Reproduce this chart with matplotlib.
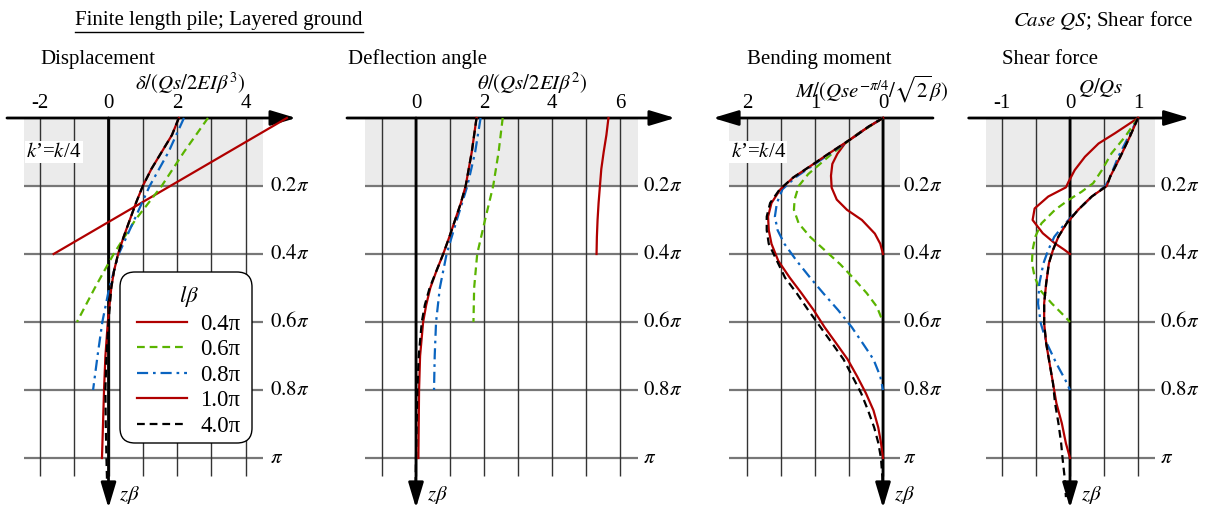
import matplotlib.pyplot as plt
from matplotlib.lines import Line2D
from matplotlib.patches import FancyBboxPatch
from matplotlib.transforms import IdentityTransform

plt.rcParams['font.family'] = ['Liberation Serif', 'DejaVu Serif']
plt.rcParams['mathtext.fontset'] = 'stix'
plt.rcParams['font.size'] = 15

# depth zβ in units of π, pile lengths lβ
cases = ['0.4π', '0.6π', '0.8π', '1.0π', '4.0π']
z_ticks = [0.2, 0.4, 0.6, 0.8, 1.0]
z_labels = [r'$0.2\pi$', r'$0.4\pi$', r'$0.6\pi$', r'$0.8\pi$', r'$\pi$']

# --- displacement  δ/(Qs/2EIβ³)
d04_z = [0, 0.1, 0.2, 0.3, 0.4]
d04_v = [5.2, 3.5, 1.8, 0.1, -1.6]
d06_z = [0, 0.1, 0.2, 0.3, 0.4, 0.5, 0.6]
d06_v = [2.9, 2.2, 1.55, 0.78, 0.15, -0.4, -0.92]
d08_z = [0, 0.1, 0.2, 0.3, 0.4, 0.5, 0.6, 0.7, 0.8]
d08_v = [2.2, 1.75, 1.2, 0.75, 0.3, 0.02, -0.18, -0.32, -0.45]
d10_z = [0, 0.05, 0.1, 0.15, 0.2, 0.25, 0.3, 0.35, 0.4, 0.45, 0.5, 0.6, 0.7, 0.8, 0.9, 1.0]
d10_v = [2.05, 1.85, 1.55, 1.25, 1.0, 0.8, 0.62, 0.44, 0.28, 0.16, 0.08, -0.02, -0.09, -0.13, -0.16, -0.19]
d40_z = [0, 0.05, 0.1, 0.15, 0.2, 0.25, 0.3, 0.35, 0.4, 0.45, 0.5, 0.6, 0.7, 0.8, 0.9, 1.0, 1.12]
d40_v = [2.05, 1.85, 1.55, 1.25, 1.0, 0.8, 0.62, 0.44, 0.28, 0.16, 0.08, 0.0, -0.06, -0.09, -0.08, -0.06, -0.03]

# --- deflection angle  θ/(Qs/2EIβ²)
a04_z = [0, 0.05, 0.1, 0.15, 0.2, 0.25, 0.3, 0.35, 0.4]
a04_v = [5.66, 5.6, 5.52, 5.45, 5.41, 5.37, 5.34, 5.32, 5.31]
a06_z = [0, 0.1, 0.2, 0.3, 0.4, 0.5, 0.6]
a06_v = [2.55, 2.43, 2.27, 2.03, 1.8, 1.71, 1.69]
a08_z = [0, 0.1, 0.2, 0.3, 0.4, 0.5, 0.6, 0.7, 0.8]
a08_v = [1.9, 1.74, 1.51, 1.2, 0.9, 0.7, 0.59, 0.55, 0.53]
a10_z = [0, 0.1, 0.2, 0.25, 0.3, 0.35, 0.4, 0.45, 0.5, 0.55, 0.6, 0.7, 0.8, 0.9, 1.0]
a10_v = [1.78, 1.64, 1.46, 1.32, 1.15, 0.98, 0.8, 0.6, 0.42, 0.3, 0.21, 0.12, 0.09, 0.08, 0.07]
a40_z = [0, 0.1, 0.2, 0.25, 0.3, 0.35, 0.4, 0.45, 0.5, 0.55, 0.6, 0.7, 0.8, 0.9, 1.0, 1.12]
a40_v = [1.78, 1.64, 1.46, 1.32, 1.15, 0.98, 0.8, 0.6, 0.4, 0.26, 0.17, 0.08, 0.04, 0.02, 0.0, -0.02]

# --- bending moment  M/(Qs e^{-π/4}/√2β)
m04_z = [0, 0.045, 0.075, 0.105, 0.135, 0.17, 0.205, 0.24, 0.27, 0.3, 0.34, 0.37, 0.4]
m04_v = [0, 0.36, 0.56, 0.67, 0.745, 0.765, 0.755, 0.68, 0.53, 0.31, 0.12, 0.04, 0]
m06_z = [0, 0.025, 0.055, 0.105, 0.165, 0.2, 0.24, 0.27, 0.31, 0.35, 0.39, 0.43, 0.47, 0.515, 0.555, 0.6]
m06_v = [0, 0.2, 0.43, 0.75, 1.1, 1.24, 1.3, 1.31, 1.24, 1.07, 0.85, 0.63, 0.44, 0.24, 0.09, 0]
m08_z = [0, 0.025, 0.055, 0.105, 0.135, 0.175, 0.21, 0.25, 0.29, 0.33, 0.37, 0.42, 0.47, 0.515,
         0.565, 0.615, 0.665, 0.71, 0.76, 0.8]
m08_v = [0, 0.21, 0.42, 0.78, 1.0, 1.29, 1.48, 1.56, 1.59, 1.55, 1.45, 1.27, 1.07, 0.88,
         0.66, 0.46, 0.29, 0.14, 0.04, 0]
m10_z = [0, 0.025, 0.055, 0.105, 0.135, 0.175, 0.21, 0.25, 0.29, 0.33, 0.37, 0.42, 0.47, 0.515,
         0.565, 0.615, 0.665, 0.71, 0.76, 0.81, 0.86, 0.91, 0.955, 1.0]
m10_v = [0, 0.21, 0.42, 0.8, 1.02, 1.32, 1.51, 1.64, 1.69, 1.68, 1.64, 1.54, 1.37, 1.2,
         1.02, 0.86, 0.68, 0.52, 0.38, 0.25, 0.14, 0.07, 0.03, 0]
m40_z = [0, 0.025, 0.055, 0.105, 0.135, 0.175, 0.21, 0.25, 0.29, 0.33, 0.37, 0.42, 0.47, 0.515,
         0.565, 0.615, 0.665, 0.71, 0.76, 0.81, 0.86, 0.91, 0.955, 1.0, 1.055, 1.12]
m40_v = [0, 0.21, 0.42, 0.8, 1.02, 1.32, 1.52, 1.66, 1.71, 1.71, 1.68, 1.56, 1.44, 1.27,
         1.1, 0.92, 0.74, 0.58, 0.45, 0.32, 0.22, 0.13, 0.07, 0.03, 0.01, 0.0]

# --- shear force  Q/Qs
s04_z = [0, 0.045, 0.075, 0.114, 0.153, 0.187, 0.204, 0.231, 0.266, 0.3, 0.339, 0.369, 0.388, 0.4]
s04_v = [1, 0.66, 0.42, 0.22, 0.07, -0.02, -0.06, -0.32, -0.52, -0.55, -0.4, -0.22, -0.08, 0]
s06_z = [0, 0.055, 0.104, 0.153, 0.192, 0.217, 0.241, 0.27, 0.31, 0.349, 0.388, 0.427, 0.467,
         0.506, 0.545, 0.575, 0.6]
s06_v = [1, 0.81, 0.61, 0.47, 0.34, 0.17, -0.02, -0.22, -0.42, -0.51, -0.55, -0.56, -0.52,
         -0.44, -0.27, -0.12, 0]
s08_z = [0, 0.055, 0.114, 0.173, 0.2, 0.231, 0.27, 0.31, 0.349, 0.388, 0.427, 0.486, 0.545,
         0.604, 0.663, 0.722, 0.77, 0.8]
s08_v = [1, 0.86, 0.71, 0.59, 0.52, 0.32, 0.12, -0.07, -0.23, -0.32, -0.39, -0.45, -0.47,
         -0.43, -0.34, -0.2, -0.07, 0]
s10_z = [0, 0.055, 0.114, 0.173, 0.2, 0.231, 0.27, 0.31, 0.349, 0.388, 0.427, 0.486, 0.545,
         0.604, 0.663, 0.722, 0.78, 0.839, 0.898, 0.957, 1.0]
s10_v = [1, 0.88, 0.74, 0.59, 0.54, 0.32, 0.12, -0.05, -0.17, -0.25, -0.31, -0.35, -0.38,
         -0.38, -0.35, -0.3, -0.25, -0.2, -0.12, -0.06, 0]
s40_z = [0, 0.055, 0.114, 0.173, 0.2, 0.231, 0.27, 0.31, 0.349, 0.388, 0.427, 0.486, 0.545,
         0.604, 0.663, 0.722, 0.78, 0.839, 0.898, 0.957, 1.0, 1.055, 1.115]
s40_v = [1, 0.88, 0.74, 0.59, 0.54, 0.32, 0.12, -0.05, -0.17, -0.25, -0.31, -0.35, -0.38,
         -0.38, -0.35, -0.3, -0.25, -0.22, -0.17, -0.13, -0.11, -0.08, -0.06]

RED, GREEN, BLUE = '#b00000', '#5ab400', '#0a64c0'
colors = [RED, GREEN, BLUE, RED, 'black']
styles = ['-', (0, (3.5, 2.2)), (0, (5, 2.2, 1.2, 2.2)), '-', (0, (3.5, 2.2))]

W, H = 1207, 509
fig = plt.figure(figsize=(W / 100, H / 100), dpi=100)
Z_TOP, Z_BOT = -118 / 340, (H - 118) / 340


def panel(left, right, x0, sx):
    ax = fig.add_axes([left / W, 0, (right - left) / W, 1])
    ax.set_xlim((left - x0) / sx, (right - x0) / sx)
    ax.set_ylim(Z_BOT, Z_TOP)
    ax.axis('off')
    return ax


def frame(ax, grid_x, g0, g1, a0, a1, ticks, lab_x):
    ax.fill_between([g0, g1], 0, 0.2, color='#ebebeb', lw=0, zorder=0)
    ax.hlines(z_ticks, g0, g1, color='#777777', lw=1.6, zorder=1)
    ax.vlines(grid_x, 0, 1.053, color='#333333', lw=1.0, zorder=1)
    arr = dict(arrowstyle='-|>,head_length=1.1,head_width=0.33', color='black', lw=2,
               mutation_scale=14, shrinkA=0, shrinkB=0)
    ax.annotate('', xy=(a1, 0), xytext=(a0, 0), arrowprops=arr, zorder=2)
    ax.annotate('', xy=(0, 1.147), xytext=(0, 0), arrowprops=arr, zorder=2)
    for t in ticks:
        ax.text(t, -0.044, ('-' if t < 0 else '') + '%g' % abs(t), ha='center', va='center')
    for z, lab in zip(z_ticks, z_labels):
        ax.text(lab_x, z, lab, ha='left', va='center')


def curves(ax, data):
    for (z, v), c, ls in zip(data, colors, styles):
        ax.plot(v, z, color=c, ls=ls, lw=1.6, zorder=3)


# Displacement
ax1 = panel(0, 330, 108.5, 34.3)
frame(ax1, range(-2, 5), -2.46, 4.5, -2.96, 5.47, [-2, 0, 2, 4], 4.71)
curves(ax1, [(d04_z, d04_v), (d06_z, d06_v), (d08_z, d08_v), (d10_z, d10_v), (d40_z, d40_v)])
ax1.text(-2.0, -0.172, 'Displacement', ha='left', va='center')
ax1.text(2.38, -0.102, r'$\delta/(Qs/2EI\beta^{3})$', ha='center', va='center')
ax1.text(-2.4, 0.1, r"$k$’=$k$/4", ha='left', va='center',
         bbox=dict(facecolor='white', edgecolor='none', pad=1))
ax1.text(0.3, 1.11, r'$z\beta$', ha='left', va='center')

# Deflection angle
ax2 = panel(330, 700, 416, 34)
frame(ax2, range(-1, 7), -1.5, 6.53, -2.03, 7.62, [0, 2, 4, 6], 6.68)
curves(ax2, [(a04_z, a04_v), (a06_z, a06_v), (a08_z, a08_v), (a10_z, a10_v), (a40_z, a40_v)])
ax2.text(-2.0, -0.172, 'Deflection angle', ha='left', va='center')
ax2.text(3.41, -0.102, r'$\theta/(Qs/2EI\beta^{2})$', ha='center', va='center')
ax2.text(0.32, 1.11, r'$z\beta$', ha='left', va='center')

# Bending moment
ax3 = panel(700, 960, 883, -68)
frame(ax3, [0, 0.5, 1, 1.5, 2], 2.26, -0.25, -0.735, 2.5, [0, 1, 2], -0.29)
curves(ax3, [(m04_z, m04_v), (m06_z, m06_v), (m08_z, m08_v), (m10_z, m10_v), (m40_z, m40_v)])
ax3.text(2.0, -0.172, 'Bending moment', ha='left', va='center')
ax3.text(0.17, -0.085, r'$M/(Qse^{-\pi/4}/\sqrt{2}\beta)$', ha='center', va='center')
ax3.text(2.24, 0.1, r"$k$’=$k$/4", ha='left', va='center',
         bbox=dict(facecolor='white', edgecolor='none', pad=1))
ax3.text(-0.16, 1.11, r'$z\beta$', ha='left', va='center')

# Shear force
ax4 = panel(960, 1207, 1070, 68)
frame(ax4, [-1, -0.5, 0, 0.5, 1], -1.24, 1.25, -1.49, 1.76, [-1, 0, 1], 1.32)
curves(ax4, [(s04_z, s04_v), (s06_z, s06_v), (s08_z, s08_v), (s10_z, s10_v), (s40_z, s40_v)])
ax4.text(-1.0, -0.172, 'Shear force', ha='left', va='center')
ax4.text(0.46, -0.09, r'$Q/Qs$', ha='center', va='center')
ax4.text(0.16, 1.11, r'$z\beta$', ha='left', va='center')

# legend inside the displacement panel, rounded box drawn separately
box = FancyBboxPatch((120, H - 443), 132, 171, boxstyle='round,pad=0,rounding_size=15',
                     transform=IdentityTransform(), facecolor='white', edgecolor='black',
                     lw=1.0, zorder=4, clip_on=False)
ax1.add_artist(box)
handles = [Line2D([], [], color=c, ls=ls, lw=1.6) for c, ls in zip(colors, styles)]
leg = ax1.legend(handles, cases, title=r'$l\beta$', loc='upper left',
                 bbox_to_anchor=(137 / W, 1 - 284 / H), bbox_transform=fig.transFigure,
                 frameon=False, fontsize=16.5, title_fontsize=16.5,
                 handlelength=2.2, handletextpad=0.55, labelspacing=0.2,
                 borderpad=0, borderaxespad=0)
leg.set_zorder(5)

# headings
t1 = fig.text(75 / W, 1 - 21 / H, 'Finite length pile; Layered ground', ha='left', va='center')
fig.text(1193 / W, 1 - 21 / H, r'$\mathit{Case\ QS}$; Shear force', ha='right', va='center')
fig.canvas.draw()
bb = t1.get_window_extent()
fig.add_artist(Line2D([bb.x0 / W, bb.x1 / W], [(bb.y0 - 1) / H] * 2,
                      transform=fig.transFigure, color='black', lw=1))

fig.savefig('out.png', dpi=100)
